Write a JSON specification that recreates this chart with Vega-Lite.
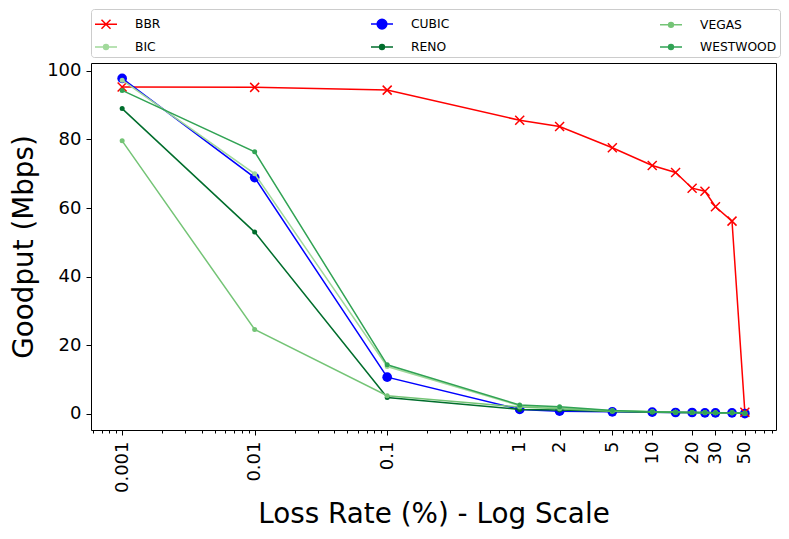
{
  "$schema": "https://vega.github.io/schema/vega-lite/v6.json",
  "width": 685,
  "height": 367,
  "autosize": "none",
  "padding": {"left": 91, "top": 63, "right": 13, "bottom": 109},
  "background": "white",
  "config": {
    "font": "DejaVu Sans",
    "view": {"stroke": "black", "strokeWidth": 1},
    "axis": {
      "domain": false,
      "grid": false,
      "tickColor": "black",
      "labelColor": "black",
      "titleColor": "black",
      "labelFont": "DejaVu Sans",
      "titleFont": "DejaVu Sans",
      "titleFontWeight": "normal"
    },
    "legend": {"labelFont": "DejaVu Sans"}
  },
  "data": {
    "values": [
      {"cca": "BBR", "loss": 0.001, "goodput": 95.3},
      {"cca": "BBR", "loss": 0.01, "goodput": 95.2},
      {"cca": "BBR", "loss": 0.1, "goodput": 94.4},
      {"cca": "BBR", "loss": 1, "goodput": 85.6},
      {"cca": "BBR", "loss": 2, "goodput": 83.8},
      {"cca": "BBR", "loss": 5, "goodput": 77.6},
      {"cca": "BBR", "loss": 10, "goodput": 72.4},
      {"cca": "BBR", "loss": 15, "goodput": 70.4},
      {"cca": "BBR", "loss": 20, "goodput": 65.8},
      {"cca": "BBR", "loss": 25, "goodput": 64.9},
      {"cca": "BBR", "loss": 30, "goodput": 60.4},
      {"cca": "BBR", "loss": 40, "goodput": 56.2},
      {"cca": "BBR", "loss": 50, "goodput": 0.5},
      {"cca": "BIC", "loss": 0.001, "goodput": 97.3},
      {"cca": "BIC", "loss": 0.01, "goodput": 70.0},
      {"cca": "BIC", "loss": 0.1, "goodput": 13.8},
      {"cca": "BIC", "loss": 1, "goodput": 2.4},
      {"cca": "BIC", "loss": 2, "goodput": 1.8},
      {"cca": "BIC", "loss": 5, "goodput": 0.9},
      {"cca": "BIC", "loss": 10, "goodput": 0.6},
      {"cca": "BIC", "loss": 15, "goodput": 0.5},
      {"cca": "BIC", "loss": 20, "goodput": 0.4},
      {"cca": "BIC", "loss": 25, "goodput": 0.4},
      {"cca": "BIC", "loss": 30, "goodput": 0.3},
      {"cca": "BIC", "loss": 40, "goodput": 0.3},
      {"cca": "BIC", "loss": 50, "goodput": 0.2},
      {"cca": "CUBIC", "loss": 0.001, "goodput": 97.8},
      {"cca": "CUBIC", "loss": 0.01, "goodput": 68.9},
      {"cca": "CUBIC", "loss": 0.1, "goodput": 10.7},
      {"cca": "CUBIC", "loss": 1, "goodput": 1.3},
      {"cca": "CUBIC", "loss": 2, "goodput": 0.8},
      {"cca": "CUBIC", "loss": 5, "goodput": 0.6},
      {"cca": "CUBIC", "loss": 10, "goodput": 0.5},
      {"cca": "CUBIC", "loss": 15, "goodput": 0.4},
      {"cca": "CUBIC", "loss": 20, "goodput": 0.4},
      {"cca": "CUBIC", "loss": 25, "goodput": 0.3},
      {"cca": "CUBIC", "loss": 30, "goodput": 0.3},
      {"cca": "CUBIC", "loss": 40, "goodput": 0.3},
      {"cca": "CUBIC", "loss": 50, "goodput": 0.1},
      {"cca": "RENO", "loss": 0.001, "goodput": 89.0},
      {"cca": "RENO", "loss": 0.01, "goodput": 53.0},
      {"cca": "RENO", "loss": 0.1, "goodput": 4.8},
      {"cca": "RENO", "loss": 1, "goodput": 1.3},
      {"cca": "RENO", "loss": 2, "goodput": 1.1},
      {"cca": "RENO", "loss": 5, "goodput": 0.7},
      {"cca": "RENO", "loss": 10, "goodput": 0.5},
      {"cca": "RENO", "loss": 15, "goodput": 0.4},
      {"cca": "RENO", "loss": 20, "goodput": 0.4},
      {"cca": "RENO", "loss": 25, "goodput": 0.3},
      {"cca": "RENO", "loss": 30, "goodput": 0.3},
      {"cca": "RENO", "loss": 40, "goodput": 0.3},
      {"cca": "RENO", "loss": 50, "goodput": 0.2},
      {"cca": "VEGAS", "loss": 0.001, "goodput": 79.6},
      {"cca": "VEGAS", "loss": 0.01, "goodput": 24.6},
      {"cca": "VEGAS", "loss": 0.1, "goodput": 5.3},
      {"cca": "VEGAS", "loss": 1, "goodput": 2.0},
      {"cca": "VEGAS", "loss": 2, "goodput": 1.5},
      {"cca": "VEGAS", "loss": 5, "goodput": 0.8},
      {"cca": "VEGAS", "loss": 10, "goodput": 0.6},
      {"cca": "VEGAS", "loss": 15, "goodput": 0.5},
      {"cca": "VEGAS", "loss": 20, "goodput": 0.4},
      {"cca": "VEGAS", "loss": 25, "goodput": 0.3},
      {"cca": "VEGAS", "loss": 30, "goodput": 0.3},
      {"cca": "VEGAS", "loss": 40, "goodput": 0.3},
      {"cca": "VEGAS", "loss": 50, "goodput": 0.2},
      {"cca": "WESTWOOD", "loss": 0.001, "goodput": 94.3},
      {"cca": "WESTWOOD", "loss": 0.01, "goodput": 76.4},
      {"cca": "WESTWOOD", "loss": 0.1, "goodput": 14.3},
      {"cca": "WESTWOOD", "loss": 1, "goodput": 2.6},
      {"cca": "WESTWOOD", "loss": 2, "goodput": 2.1},
      {"cca": "WESTWOOD", "loss": 5, "goodput": 1.0},
      {"cca": "WESTWOOD", "loss": 10, "goodput": 0.6},
      {"cca": "WESTWOOD", "loss": 15, "goodput": 0.5},
      {"cca": "WESTWOOD", "loss": 20, "goodput": 0.4},
      {"cca": "WESTWOOD", "loss": 25, "goodput": 0.4},
      {"cca": "WESTWOOD", "loss": 30, "goodput": 0.3},
      {"cca": "WESTWOOD", "loss": 40, "goodput": 0.3},
      {"cca": "WESTWOOD", "loss": 50, "goodput": 0.2}
    ]
  },
  "encoding": {
    "y": {
      "field": "goodput",
      "type": "quantitative",
      "scale": {"domain": [-4.7, 102.3], "nice": false, "zero": false},
      "axis": {
        "title": "Goodput (Mbps)",
        "titleFontSize": 27.8,
        "titlePadding": 8,
        "values": [0, 20, 40, 60, 80, 100],
        "labelFontSize": 18,
        "labelPadding": 5,
        "tickSize": 5
      }
    },
    "color": {
      "field": "cca",
      "type": "nominal",
      "scale": {
        "domain": ["BBR", "CUBIC", "VEGAS", "BIC", "RENO", "WESTWOOD"],
        "range": ["#ff0000", "#0000ff", "#74c476", "#a1d99b", "#006d2c", "#31a354"]
      },
      "legend": null
    }
  },
  "layer": [
    {
      "transform": [{"filter": "datum.cca === 'BBR' || datum.cca === 'CUBIC'"}],
      "mark": {"type": "line", "strokeWidth": 1.5},
      "encoding": {
        "x": {
          "field": "loss",
          "type": "quantitative",
          "scale": {"type": "log", "domain": [0.000582, 85.9], "nice": false},
          "axis": {
            "title": "Loss Rate (%) - Log Scale",
            "titleFontSize": 27.8,
            "titlePadding": 8,
            "values": [0.001, 0.01, 0.1, 1, 2, 5, 10, 20, 30, 50],
            "format": "~g",
            "labelAngle": 270,
            "labelFontSize": 18,
            "labelPadding": 6,
            "tickSize": 5,
            "labelOverlap": false
          }
        },
        "color": {
          "field": "cca",
          "type": "nominal",
          "legend": {
            "orient": "top",
            "title": null,
            "columns": 3,
            "columnPadding": 207,
            "rowPadding": 3,
            "symbolSize": 484,
            "symbolStrokeWidth": 1.5,
            "labelFontSize": 12.3,
            "labelColor": "black",
            "labelOffset": 17,
            "padding": 3,
            "offset": 6,
            "strokeColor": "#cccccc",
            "fillColor": "white",
            "cornerRadius": 3,
            "encode": {
              "symbols": {
                "update": {
                  "shape": {"signal": "datum.value === 'BBR' ? 'M-1,0H1M-0.41,-0.41L0.41,0.41M-0.41,0.41L0.41,-0.41' : (datum.value === 'CUBIC' ? 'M-1,0H1M0.44,0A0.44,0.44,0,1,1,-0.44,0A0.44,0.44,0,1,1,0.44,0Z' : 'M-1,0H1M0.22,0A0.22,0.22,0,1,1,-0.22,0A0.22,0.22,0,1,1,0.22,0Z')"},
                  "fill": {"scale": "color", "field": "value"},
                  "stroke": {"scale": "color", "field": "value"},
                  "strokeWidth": {"value": 1.5},
                  "opacity": {"value": 1}
                }
              }
            }
          }
        }
      }
    },
    {
      "transform": [{"filter": "datum.cca === 'CUBIC'"}],
      "mark": {"type": "point", "filled": true, "shape": "circle", "size": 94, "opacity": 1},
      "encoding": {
        "x": {"field": "loss", "type": "quantitative", "axis": null}
      }
    },
    {
      "transform": [{"filter": "datum.cca === 'BBR'"}],
      "mark": {"type": "point", "filled": false, "shape": "M-1,-1L1,1M-1,1L1,-1", "size": 81, "strokeWidth": 1.5, "opacity": 1},
      "encoding": {
        "x": {"field": "loss", "type": "quantitative", "axis": null}
      }
    },
    {
      "transform": [{"filter": "datum.cca !== 'BBR' && datum.cca !== 'CUBIC'"}],
      "mark": {"type": "line", "strokeWidth": 1.5},
      "encoding": {
        "x": {"field": "loss", "type": "quantitative", "axis": null}
      }
    },
    {
      "transform": [{"filter": "datum.cca !== 'BBR' && datum.cca !== 'CUBIC'"}],
      "mark": {"type": "point", "filled": true, "shape": "circle", "size": 25, "opacity": 1},
      "encoding": {
        "x": {
          "field": "loss",
          "type": "quantitative",
          "axis": {
            "orient": "bottom",
            "title": null,
            "labels": false,
            "tickSize": 3,
            "values": [0.0006, 0.0007, 0.0008, 0.0009, 0.002, 0.003, 0.004, 0.005, 0.006, 0.007, 0.008, 0.009, 0.02, 0.03, 0.04, 0.05, 0.06, 0.07, 0.08, 0.09, 0.2, 0.3, 0.4, 0.5, 0.6, 0.7, 0.8, 0.9, 3, 4, 6, 7, 8, 9, 40, 60, 70, 80]
          }
        }
      }
    }
  ],
  "resolve": {"axis": {"x": "independent"}}
}
